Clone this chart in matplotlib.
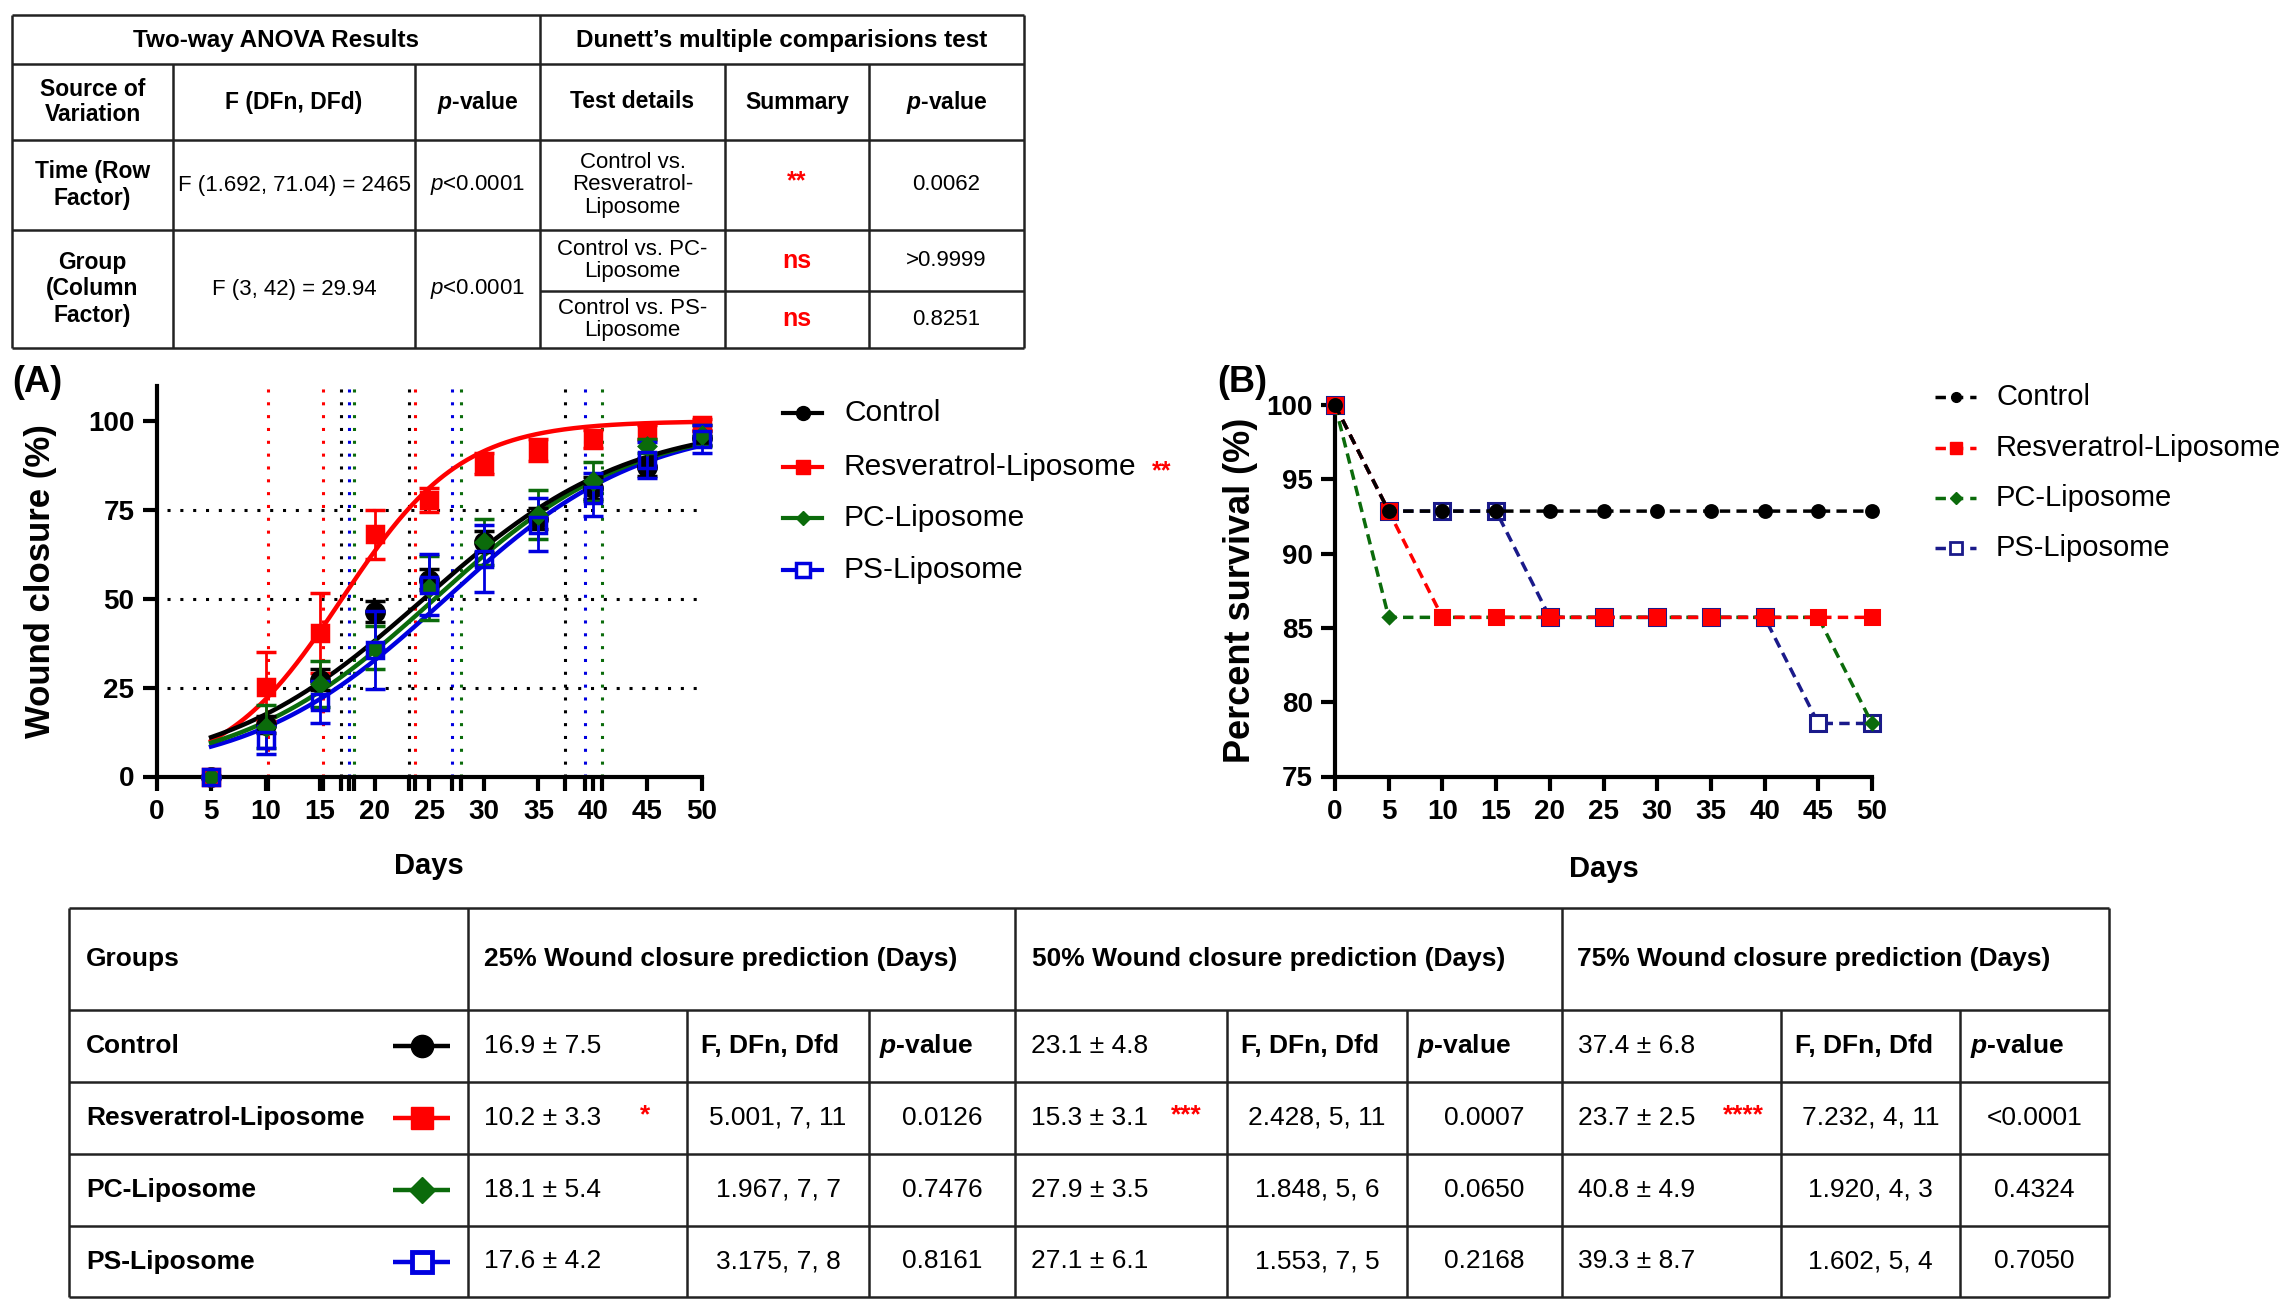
import numpy as np
import matplotlib
matplotlib.use('Agg')
import matplotlib.pyplot as plt

plt.rcParams['font.family'] = ['Liberation Sans', 'DejaVu Sans']
plt.rcParams['mathtext.fontset'] = 'custom'
plt.rcParams['mathtext.rm'] = 'Liberation Sans'
plt.rcParams['mathtext.it'] = 'Liberation Sans:italic'
plt.rcParams['mathtext.bf'] = 'Liberation Sans:bold'
plt.rcParams['mathtext.bfit'] = 'Liberation Sans:italic:bold'

# ---------------- data ----------------
groups = ['Control', 'Resveratrol-Liposome', 'PC-Liposome', 'PS-Liposome']

# Panel A: wound closure (%)
days_a = [5, 10, 15, 20, 25, 30, 35, 40, 45, 50]
ctrl_mean = [0, 14.6, 27.2, 46.4, 55.4, 66.1, 72.5, 81.2, 87, 95.3]
ctrl_sd = [0, 2.5, 3, 3, 3, 3, 3, 3, 2.5, 2]
res_mean = [0, 25.3, 40.4, 68.1, 77.8, 88, 91.9, 95, 97, 99]
res_sd = [0, 9.7, 11.2, 7, 3.5, 3, 3, 2.5, 2, 1.5]
pc_mean = [0, 14, 26, 36.2, 53, 66, 73.7, 83, 93, 96]
pc_sd = [0, 6, 6.5, 6, 9, 6.5, 7, 5.5, 2, 3]
ps_mean = [0, 10.2, 21, 35.5, 54, 61.3, 70.8, 79.3, 89, 95]
ps_sd = [0, 4, 6, 11, 8.7, 9.5, 7.5, 6, 5, 4]

# fitted sigmoid parameters (day at 50 % closure, slope per day)
fit_x50 = [24.5, 17.0, 25.5, 26.5]
fit_slope = [0.107, 0.183, 0.110, 0.111]

hline_pct = [25, 50, 75]

# prediction table values (days)
pred25 = [16.9, 10.2, 18.1, 17.6]
pred25_sd = [7.5, 3.3, 5.4, 4.2]
pred50 = [23.1, 15.3, 27.9, 27.1]
pred50_sd = [4.8, 3.1, 3.5, 6.1]
pred75 = [37.4, 23.7, 40.8, 39.3]
pred75_sd = [6.8, 2.5, 4.9, 8.7]
f25 = ['', '5.001, 7, 11', '1.967, 7, 7', '3.175, 7, 8']
p25 = ['', '0.0126', '0.7476', '0.8161']
f50 = ['', '2.428, 5, 11', '1.848, 5, 6', '1.553, 7, 5']
p50 = ['', '0.0007', '0.0650', '0.2168']
f75 = ['', '7.232, 4, 11', '1.920, 4, 3', '1.602, 5, 4']
p75 = ['', '<0.0001', '0.4324', '0.7050']
star25 = ['', '*', '', '']
star50 = ['', '***', '', '']
star75 = ['', '****', '', '']

# Panel B: percent survival
days_b = [0, 5, 10, 15, 20, 25, 30, 35, 40, 45, 50]
surv_ctrl = [100, 92.86, 92.86, 92.86, 92.86, 92.86, 92.86, 92.86, 92.86, 92.86, 92.86]
surv_res = [100, 92.86, 85.71, 85.71, 85.71, 85.71, 85.71, 85.71, 85.71, 85.71, 85.71]
surv_pc = [100, 85.71, 85.71, 85.71, 85.71, 85.71, 85.71, 85.71, 85.71, 85.71, 78.57]
surv_ps = [100, 92.86, 92.86, 92.86, 85.71, 85.71, 85.71, 85.71, 85.71, 78.57, 78.57]

# ANOVA table
anova_source = ['Time (Row\nFactor)', 'Group\n(Column\nFactor)']
anova_f = ['F (1.692, 71.04) = 2465', 'F (3, 42) = 29.94']
anova_p = ['<0.0001', '<0.0001']
dunnett_test = ['Control vs.\nResveratrol-\nLiposome', 'Control vs. PC-\nLiposome', 'Control vs. PS-\nLiposome']
dunnett_summary = ['**', 'ns', 'ns']
dunnett_p = ['0.0062', '>0.9999', '0.8251']

colA = ['#000000', '#ff0000', '#0b6b0b', '#0000e0']
colB = ['#000000', '#ff0000', '#0b6b0b', '#1a1a8a']

# ---------------- figure ----------------
W, H = 2293, 1307
fig = plt.figure(figsize=(W / 100, H / 100), dpi=100)


def rect(x0, yt, x1, yb):
    return [x0 / W, 1 - yb / H, (x1 - x0) / W, (yb - yt) / H]


def bold_ticks(ax, size):
    for lab in ax.get_xticklabels() + ax.get_yticklabels():
        lab.set_fontweight('bold')
        lab.set_fontsize(size)


# ---------------- Panel A ----------------
axA = fig.add_axes(rect(156.5, 385.5, 702, 776.5))
axA.set_xlim(0, 50)
axA.set_ylim(0, 110)
for s in ['top', 'right']:
    axA.spines[s].set_visible(False)
for s in ['left', 'bottom']:
    axA.spines[s].set_linewidth(3)

thr_all = []
for i in range(4):
    for d in (pred25[i], pred50[i], pred75[i]):
        axA.axvline(d, ymin=0, ymax=1, color=colA[i], lw=2.2, ls=(0, (1, 3.2)), zorder=1)
        thr_all.append(d)
for h in hline_pct:
    axA.plot([1, 50], [h, h], color='black', lw=2.2, ls=(0, (1, 3.2)), zorder=1)

xs = np.linspace(days_a[0], days_a[-1], 300)
means = [ctrl_mean, res_mean, pc_mean, ps_mean]
sds = [ctrl_sd, res_sd, pc_sd, ps_sd]
markers = ['o', 's', 'D', 's']
msz = [12.5, 11.5, 8.5, 12]
for i in [1, 3, 2, 0]:
    axA.plot(xs, 100 / (1 + np.exp(-fit_slope[i] * (xs - fit_x50[i]))), color=colA[i], lw=3.2, zorder=3)
for i in [3, 2, 1, 0]:
    fc = 'none' if i == 3 else colA[i]
    axA.errorbar(days_a, means[i], yerr=sds[i], fmt=markers[i], color=colA[i], mfc=fc, mec=colA[i],
                 mew=2.5, ms=msz[i], capsize=7, elinewidth=2, capthick=2, zorder=4 + i * 0.1, clip_on=False)

axA.set_xticks(range(0, 51, 5))
axA.set_yticks([0, 25, 50, 75, 100])
axA.set_xticks(sorted(thr_all), minor=True)
axA.tick_params(which='both', direction='out', length=10, width=3, pad=6)
bold_ticks(axA, 20)
axA.set_xlabel('Days', fontsize=21, fontweight='bold', labelpad=20)
axA.set_ylabel('Wound closure (%)', fontsize=25, fontweight='bold', labelpad=22)

# ---------------- Panel B ----------------
axB = fig.add_axes(rect(1335, 405, 1872, 776.5))
axB.set_xlim(0, 50)
axB.set_ylim(75, 100)
for s in ['top', 'right']:
    axB.spines[s].set_visible(False)
for s in ['left', 'bottom']:
    axB.spines[s].set_linewidth(3)
survs = [surv_ctrl, surv_res, surv_pc, surv_ps]
mkB = ['o', 's', 'D', 's']
msB = [8.5, 10.5, 6.5, 11.5]
dash = (0, (3, 1.8))
for i in [3, 2, 1, 0]:
    fc = 'white' if i == 3 else colB[i]
    axB.plot(days_b, survs[i], color=colB[i], lw=2.5, ls=dash, marker=mkB[i], ms=msB[i],
             mfc=fc, mec=colB[i], mew=2.2, clip_on=False, zorder=3 + (3 - i) * 0.1 if i != 3 else 3)
axB.set_xticks(range(0, 51, 5))
axB.set_yticks(range(75, 101, 5))
axB.tick_params(direction='out', length=10, width=3, pad=6)
bold_ticks(axB, 20)
axB.set_xlabel('Days', fontsize=21, fontweight='bold', labelpad=22)
axB.set_ylabel('Percent survival (%)', fontsize=26, fontweight='bold', labelpad=6)

# ---------------- overlay (tables, legends, labels) ----------------
ov = fig.add_axes([0, 0, 1, 1], zorder=10)
ov.set_xlim(0, W)
ov.set_ylim(H, 0)
ov.axis('off')
ov.patch.set_alpha(0)

LW = 1.8


def hl(y, x0, x1):
    ov.plot([x0, x1], [y, y], color='#222222', lw=LW, solid_capstyle='butt')


def vl(x, y0, y1):
    ov.plot([x, x], [y0, y1], color='#222222', lw=LW, solid_capstyle='butt')


def t(x, y, s, size, ha='center', weight='normal', color='black', ls=1.2):
    ov.text(x, y, s, fontsize=size, ha=ha, va='center', fontweight=weight, color=color,
            linespacing=ls, multialignment='center' if ha == 'center' else 'left')


# top table
tx = [12, 173, 415, 540, 725, 869, 1024]
ty = [15, 64, 140, 230, 348]
ysplit = 291
for y in ty:
    hl(y, tx[0], tx[-1])
hl(ysplit, tx[3], tx[-1])
for x in [tx[0], tx[3], tx[-1]]:
    vl(x, ty[0], ty[-1])
for x in [tx[1], tx[2], tx[4], tx[5]]:
    vl(x, ty[1], ty[-1])

cx = [(tx[i] + tx[i + 1]) / 2 for i in range(6)]
t((tx[0] + tx[3]) / 2, 40, 'Two-way ANOVA Results', 17.5, weight='bold')
t((tx[3] + tx[6]) / 2, 40, 'Dunett\u2019s multiple comparisions test', 17.5, weight='bold')
t(cx[0], 102, 'Source of\nVariation', 16.5, weight='bold', ls=1.15)
t(cx[1], 102, 'F (DFn, DFd)', 16.5, weight='bold')
t(cx[2], 102, r'$\mathbfit{p}$-value', 16.5, weight='bold')
t(cx[3], 102, 'Test details', 16.5, weight='bold')
t(cx[4], 102, 'Summary', 16.5, weight='bold')
t(cx[5], 102, r'$\mathbfit{p}$-value', 16.5, weight='bold')
rowc = [(ty[2] + ty[3]) / 2, (ty[3] + ty[4]) / 2]
for r in range(2):
    t(cx[0], rowc[r], anova_source[r], 16.5, weight='bold', ls=1.2)
    t(cx[1], rowc[r], anova_f[r], 16)
    t(cx[2], rowc[r], r'$\mathit{p}$' + anova_p[r], 16)
dy = [(ty[2] + ty[3]) / 2, (ty[3] + ysplit) / 2, (ysplit + ty[4]) / 2]
for r in range(3):
    t(cx[3], dy[r], dunnett_test[r], 16, ls=1.1)
    t(cx[4], dy[r] - (4 if r == 0 else 0), dunnett_summary[r], 18, weight='bold', color='#ff0000')
    t(cx[5], dy[r], dunnett_p[r], 16)

# bottom table
bx = [69, 468, 687, 869, 1015, 1227, 1407, 1562, 1781, 1960, 2109]
by = [908, 1010, 1082, 1154, 1226, 1297]
for y in by:
    hl(y, bx[0], bx[-1])
for x in [bx[0], bx[1], bx[4], bx[7], bx[-1]]:
    vl(x, by[0], by[-1])
for x in [bx[2], bx[3], bx[5], bx[6], bx[8], bx[9]]:
    vl(x, by[1], by[-1])
FS = 19
hy = (by[0] + by[1]) / 2
t(bx[0] + 17, hy, 'Groups', FS, ha='left', weight='bold')
t(bx[1] + 16, hy, '25% Wound closure prediction (Days)', FS, ha='left', weight='bold')
t(bx[4] + 17, hy, '50% Wound closure prediction (Days)', FS, ha='left', weight='bold')
t(bx[7] + 15, hy, '75% Wound closure prediction (Days)', FS, ha='left', weight='bold')
ry = [(by[i] + by[i + 1]) / 2 for i in range(1, 5)]
mkT = ['o', 's', 'D', 's']
msT = [16, 16, 13, 15]
for i in range(4):
    y = ry[i]
    t(bx[0] + 17, y, groups[i], FS, ha='left', weight='bold')
    ov.plot([393, 450], [y, y], color=colA[i], lw=3.2, solid_capstyle='butt')
    ov.plot([421.5], [y], marker=mkT[i], ms=msT[i], color=colA[i],
            mfc='white' if i == 3 else colA[i], mec=colA[i], mew=3.5 if i == 3 else 1)
    pv = [(pred25[i], pred25_sd[i], star25[i], f25[i], p25[i]),
          (pred50[i], pred50_sd[i], star50[i], f50[i], p50[i]),
          (pred75[i], pred75_sd[i], star75[i], f75[i], p75[i])]
    starx = [645, 1186, 1743]
    for k, (m, sd, st, fv, pval) in enumerate(pv):
        c0 = bx[1 + 3 * k]
        t(c0 + 16, y, f'{m:.1f} \u00b1 {sd:.1f}', FS, ha='left')
        if st:
            t(starx[k], y - 3, st, FS, color='#ff0000', weight='bold')
        fcx = (bx[2 + 3 * k] + bx[3 + 3 * k]) / 2
        pcx = (bx[3 + 3 * k] + bx[4 + 3 * k]) / 2
        if i == 0:
            t(bx[2 + 3 * k] + 14, y, 'F, DFn, Dfd', FS, ha='left', weight='bold')
            t(bx[3 + 3 * k] + 10, y, r'$\mathbfit{p}$-value', FS, ha='left', weight='bold')
        else:
            t(fcx, y, fv, FS)
            t(pcx, y, pval, FS)

# legend A
legA_y = [413, 467, 518, 570]
msLA = [10, 10, 7.5, 10]
for i in range(4):
    y = legA_y[i]
    ov.plot([783, 822], [y, y], color=colA[i], lw=3)
    ov.plot([802.5], [y], marker=mkT[i], ms=msLA[i], color=colA[i],
            mfc='white' if i == 3 else colA[i], mec=colA[i], mew=2.5 if i == 3 else 1)
    ov.text(844, y, groups[i], fontsize=21.5, ha='left', va='center')
ov.text(1162, legA_y[1] + 4, dunnett_summary[0], fontsize=18, ha='center', va='center',
        color='#ff0000', fontweight='bold')

# legend B
legB_y = [397, 448, 498, 548]
msLB = [7, 9, 6, 9]
for i in range(4):
    y = legB_y[i]
    ov.plot([1935, 1976], [y, y], color=colB[i], lw=2.5, ls=(0, (3, 2)))
    ov.plot([1955.5], [y], marker=mkB[i], ms=msLB[i], color=colB[i],
            mfc='white' if i == 3 else colB[i], mec=colB[i], mew=2 if i == 3 else 1)
    ov.text(1996, y, groups[i], fontsize=21, ha='left', va='center')

# panel labels
ov.text(12, 382, '(A)', fontsize=26, fontweight='bold', ha='left', va='center')
ov.text(1217, 382, '(B)', fontsize=26, fontweight='bold', ha='left', va='center')

fig.savefig('out.png', dpi=100, facecolor='white')
